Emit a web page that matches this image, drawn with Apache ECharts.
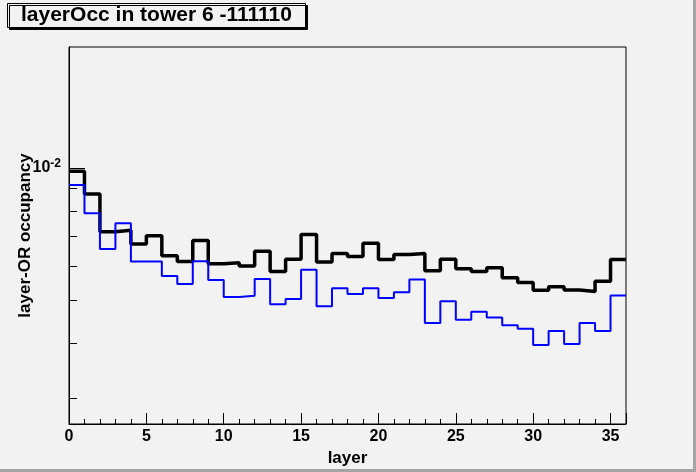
<!DOCTYPE html>
<html>
<head>
<meta charset="utf-8">
<script src="https://cdn.jsdelivr.net/npm/echarts@6/dist/echarts.min.js"></script>
<style>
  html, body { margin: 0; padding: 0; background: #f2f2f2; }
  #main { width: 696px; height: 472px; }
</style>
</head>
<body>
<div id="main"></div>
<script>
// layer index (bin low edge), bins are 1 wide
var layers = [0, 1, 2, 3, 4, 5, 6, 7, 8, 9, 10, 11, 12, 13, 14, 15, 16, 17,
    18, 19, 20, 21, 22, 23, 24, 25, 26, 27, 28, 29, 30, 31, 32, 33, 34, 35];
// black histogram
var occBlack = [0.00983, 0.00873, 0.00716, 0.00722, 0.00672, 0.00701, 0.00632, 0.00613, 0.00684,
    0.00606, 0.00609, 0.00599, 0.00647, 0.00582, 0.00620, 0.00706, 0.00611, 0.00639,
    0.00629, 0.00674, 0.00619, 0.00636, 0.00639, 0.00584, 0.00620, 0.00590, 0.00582,
    0.00593, 0.00563, 0.00549, 0.00527, 0.00537, 0.00528, 0.00524, 0.00553, 0.00619];
// blue histogram
var occBlue = [0.00915, 0.00789, 0.00654, 0.00749, 0.00613, 0.00613, 0.00568, 0.00545, 0.00614,
    0.00556, 0.00509, 0.00512, 0.00559, 0.00490, 0.00504, 0.00587, 0.00485, 0.00533,
    0.00517, 0.00533, 0.00506, 0.00522, 0.00558, 0.00444, 0.00498, 0.00452, 0.00471,
    0.00457, 0.00439, 0.00431, 0.00396, 0.00426, 0.00398, 0.00444, 0.00426, 0.00513];
// y minor ticks on the log axis
var yMinorTicks = [0.003, 0.004, 0.005, 0.006, 0.007, 0.008, 0.009];
var yMin = 0.002618, yMax = 0.01884;
var xMax = 36;

var font = '"Liberation Sans", Arial, Helvetica, sans-serif';

// histogram outline: one point per bin + the upper edge of the last bin
function histo(vals) {
    var pts = layers.map(function (l, i) { return [l, vals[i]]; });
    pts.push([layers[layers.length - 1] + 1, vals[vals.length - 1]]);
    return pts;
}

var chart = echarts.init(document.getElementById('main'));

var option = {
    backgroundColor: '#f2f2f2',
    animation: false,
    title: {
        text: 'layerOcc in tower 6 -111110',
        left: 7,
        top: 3,
        padding: [1, 14, 1, 14],
        backgroundColor: '#f2f2f2',
        borderColor: '#000',
        borderWidth: 1,
        shadowColor: '#000',
        shadowBlur: 0,
        shadowOffsetX: 2,
        shadowOffsetY: 2,
        textStyle: {
            fontFamily: font,
            fontWeight: 'bold',
            fontSize: 21,
            lineHeight: 23,
            color: '#000'
        }
    },
    grid: {
        left: 69,
        right: 70,
        top: 47,
        bottom: 48,
        show: true,
        borderColor: '#000',
        borderWidth: 1,
        backgroundColor: 'transparent'
    },
    xAxis: [{
            type: 'value',
            min: 0,
            max: xMax,
            interval: 1,
            name: 'layer',
            nameLocation: 'middle',
            nameGap: 20,
            nameTextStyle: {
                fontFamily: font,
                fontWeight: 'bold',
                fontSize: 17,
                color: '#000'
            },
            axisLine: {
                onZero: false,
                lineStyle: { color: '#000', width: 1 }
            },
            axisTick: {
                inside: true,
                length: 5,
                lineStyle: { color: '#000' }
            },
            axisLabel: {
                margin: 5,
                fontFamily: font,
                fontWeight: 'bold',
                fontSize: 16,
                color: '#000',
                formatter: function (v) {
                    return (v % 5 === 0 && v < xMax) ? String(v) : '';
                }
            },
            splitLine: { show: false }
        },
        {
            type: 'value',
            position: 'bottom',
            min: 0,
            max: xMax,
            interval: 5,
            axisLine: { show: false, onZero: false },
            axisTick: {
                inside: true,
                length: 11,
                lineStyle: { color: '#000' }
            },
            axisLabel: { show: false },
            splitLine: { show: false }
        }
    ],
    yAxis: {
        type: 'log',
        logBase: 10,
        min: yMin,
        max: yMax,
        name: 'layer-OR occupancy',
        nameLocation: 'middle',
        nameRotate: 90,
        nameGap: 35,
        nameMoveOverlap: false,
        nameTextStyle: {
            fontFamily: font,
            fontWeight: 'bold',
            fontSize: 17,
            color: '#000'
        },
        axisLine: {
            lineStyle: { color: '#000', width: 1 }
        },
        axisTick: {
            inside: true,
            length: 16,
            lineStyle: { color: '#000' }
        },
        axisLabel: {
            margin: 8,
            showMinLabel: false,
            showMaxLabel: false,
            formatter: function (v) {
                return Math.abs(Math.log10(v) + 2) < 1e-6 ? '{b|10}{s|-2}' : '';
            },
            rich: {
                b: { fontFamily: font, fontWeight: 'bold', fontSize: 16, color: '#000' },
                s: { fontFamily: font, fontWeight: 'bold', fontSize: 12, color: '#000', padding: [0, 0, 8, 0] }
            }
        },
        splitLine: { show: false }
    },
    series: [{
            name: 'layerOcc',
            type: 'line',
            step: 'end',
            symbol: 'none',
            lineStyle: { color: '#000', width: 3.5 },
            data: histo(occBlack)
        },
        {
            name: 'layerOcc (blue)',
            type: 'line',
            step: 'end',
            symbol: 'none',
            lineStyle: { color: '#0000ff', width: 2 },
            data: histo(occBlue)
        }
    ]
};
chart.setOption(option);

// minor ticks on the y axis, placed through the axis scale
var x0 = chart.convertToPixel({ xAxisIndex: 0 }, 0);
var tickEls = yMinorTicks.map(function (v) {
    var py = Math.round(chart.convertToPixel({ yAxisIndex: 0 }, v)) + 0.5;
    return {
        type: 'line',
        shape: { x1: x0, y1: py, x2: x0 + 8, y2: py },
        style: { stroke: '#000', lineWidth: 1 },
        z: 10
    };
});
// canvas bevel on the right and bottom
tickEls.push({
    type: 'rect',
    shape: { x: 693, y: 0, width: 3, height: 472 },
    style: { fill: '#a4a4a4' }
});
tickEls.push({
    type: 'rect',
    shape: { x: 0, y: 469, width: 696, height: 3 },
    style: { fill: '#a4a4a4' }
});
chart.setOption({ graphic: tickEls });
</script>
</body>
</html>
